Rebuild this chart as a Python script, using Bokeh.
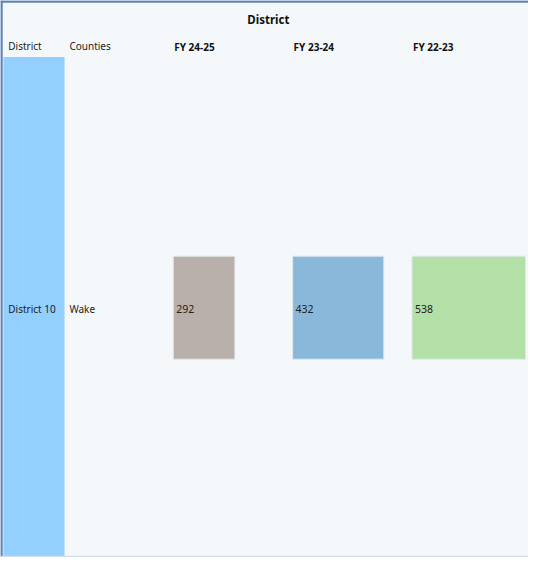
from bokeh.plotting import figure
from bokeh.models import ColumnDataSource, Range1d, Span
from bokeh.core.properties import value
from bokeh.embed import file_html
from bokeh.resources import INLINE

# ---- data ----
title_text = "District"
header_labels = ["District", "Counties"]
districts = ["District 10"]
counties = ["Wake"]
fiscal_years = ["FY 24-25", "FY 23-24", "FY 22-23"]
counts = [292, 432, 538]
bar_colors = ["#b9b0ab", "#8ab8db", "#b3e0a7"]

# ---- layout (reference pixel space) ----
W, H = 544, 573
col_starts = [178, 301, 424]
px_per_unit = 0.2175
row_top, row_bottom = 263, 369
row_mid = 317
FONT = "Noto Sans"

p = figure(width=528, height=557, output_backend="svg", toolbar_location=None,
           x_range=Range1d(0, W), y_range=Range1d(H, 0),
           min_border=0, background_fill_color="#f5f8fa", border_fill_color="#f5f8fa")
p.xaxis.visible = False
p.yaxis.visible = False
p.grid.visible = False
p.outline_line_color = None

# district colour column
p.quad(left=[3], right=[66], top=[58], bottom=[573], fill_color="#93cfff", line_color=None)

# bars
src = ColumnDataSource(dict(
    left=col_starts,
    right=[s + v * px_per_unit for s, v in zip(col_starts, counts)],
    top=[row_top] * 3, bottom=[row_bottom] * 3,
    color=bar_colors,
    lx=[s + 3 for s in col_starts], ly=[row_mid] * 3,
    label=[str(v) for v in counts],
))
p.quad(left="left", right="right", top="top", bottom="bottom", fill_color="color",
       line_color="#e3e8ec", line_width=1, source=src)
p.text(x="lx", y="ly", text="label", source=src, text_font=value(FONT),
       text_font_size="10.5px", text_color="#222222", text_baseline="middle")

# title
p.text(x=[276], y=[20], text=[title_text], text_font=value(FONT), text_font_size="11.5px",
       text_font_style="bold", text_color="#111111", text_align="center", text_baseline="middle")

# headers
p.text(x=[8, 71], y=[47, 47], text=header_labels, text_font=value(FONT), text_font_size="10px",
       text_color="#222222", text_baseline="middle")
p.text(x=[s + 1 for s in col_starts], y=[48] * 3, text=fiscal_years, text_font=value(FONT),
       text_font_size="10px", text_font_style="bold", text_color="#111111", text_baseline="middle")

# row labels
p.text(x=[8], y=[row_mid], text=districts, text_font=value(FONT), text_font_size="10px",
       text_color="#222222", text_baseline="middle")
p.text(x=[71], y=[row_mid], text=counties, text_font=value(FONT), text_font_size="10px",
       text_color="#222222", text_baseline="middle")

# borders
p.add_layout(Span(location=1, dimension="width", line_color="#5b86b8", line_width=2.5))
p.add_layout(Span(location=1, dimension="height", line_color="#5b86b8", line_width=2.5))
p.add_layout(Span(location=572, dimension="width", line_color="#d5dde6", line_width=1.5))

open("out.html", "w").write(file_html(p, INLINE))
